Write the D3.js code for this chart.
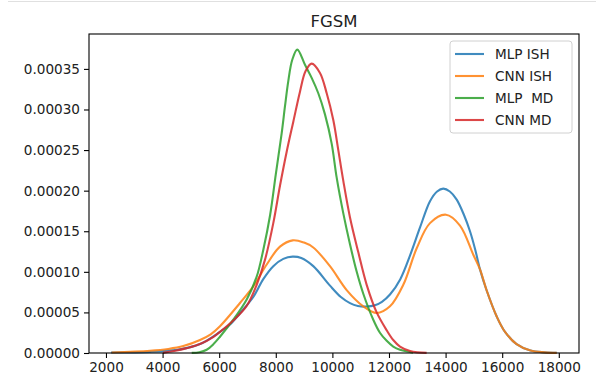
<!DOCTYPE html>
<html>
<head>
<meta charset="utf-8">
<script src="https://cdn.jsdelivr.net/npm/d3@7"></script>
<style>
  html, body { margin: 0; padding: 0; background: #fff; }
  svg { display: block; font-family: "DejaVu Sans", sans-serif; }
</style>
</head>
<body>
<div id="chart"></div>
<script>
// ---- data ----
const title = "FGSM";
const seriesNames = ["MLP ISH", "CNN ISH", "MLP  MD", "CNN MD"];
const seriesColors = ["#1f77b4", "#ff7f0e", "#2ca02c", "#d62728"];
const xTicks = [2000, 4000, 6000, 8000, 10000, 12000, 14000, 16000, 18000];
const yTicks = [0, 0.00005, 0.0001, 0.00015, 0.0002, 0.00025, 0.0003, 0.00035];

// KDE curves: [x, density]
const mlpISH = [
  [2180, 0.0000007], [3555, 0.0000014], [4615, 0.0000045], [5322, 0.000011],
  [6028, 0.000026], [6382, 0.000035], [6735, 0.000049], [7205, 0.000069],
  [7558, 0.000091], [7912, 0.000107], [8265, 0.000116], [8597, 0.0001187],
  [8900, 0.000117], [9325, 0.000107], [9915, 0.000083], [10300, 0.000069],
  [10622, 0.0000615], [10900, 0.000058], [11200, 0.0000572], [11500, 0.0000588],
  [11750, 0.000063], [12035, 0.000072], [12400, 0.000091], [12742, 0.000120],
  [13100, 0.000155], [13449, 0.000187], [13700, 0.000199], [13919, 0.0002025],
  [14150, 0.000199], [14393, 0.000189], [14650, 0.000170], [14862, 0.000150],
  [15050, 0.000127], [15216, 0.000103], [15452, 0.000077], [15806, 0.000045],
  [16100, 0.000026], [16509, 0.000011], [17000, 0.000003], [17500, 0.0000008],
  [17926, 0.0000002]
];
const cnnISH = [
  [2200, 0.0000007], [3555, 0.0000028], [4200, 0.000005], [4731, 0.0000085],
  [5322, 0.000016], [5700, 0.000023], [6028, 0.000033], [6735, 0.0000616],
  [7205, 0.000082], [7679, 0.000109], [8148, 0.000131], [8597, 0.0001388],
  [9000, 0.000136], [9325, 0.000130], [9915, 0.000107], [10505, 0.0000775],
  [11092, 0.0000575], [11565, 0.0000493], [12035, 0.0000575], [12505, 0.000084],
  [12979, 0.000129], [13449, 0.000160], [14014, 0.0001704], [14509, 0.000157],
  [14979, 0.000121], [15216, 0.000103], [15452, 0.000077], [15806, 0.000045],
  [16100, 0.000026], [16509, 0.000011], [17000, 0.000003], [17500, 0.0000008],
  [17926, 0.0000002]
];
const mlpMD = [
  [5030, 0.0000002], [5300, 0.000001], [5558, 0.000004], [5800, 0.000011],
  [6028, 0.000020], [6498, 0.000041], [6972, 0.000066], [7325, 0.000094],
  [7558, 0.000127], [7800, 0.000170], [8000, 0.000220], [8209, 0.000271],
  [8325, 0.000304], [8442, 0.000335], [8580, 0.000361], [8760, 0.0003738],
  [9032, 0.000355], [9268, 0.000339], [9502, 0.000320], [9738, 0.000294],
  [9975, 0.000258], [10152, 0.000216], [10386, 0.000172], [10622, 0.000134],
  [10860, 0.000100], [11092, 0.000073], [11445, 0.000041], [11680, 0.000025],
  [11919, 0.000015], [12150, 0.000008], [12389, 0.000004], [12742, 0.0000012],
  [12850, 0.0000003]
];
const cnnMD = [
  [4010, 0.0000002], [4400, 0.0000025], [4852, 0.000006], [5322, 0.000011],
  [5800, 0.000020], [6028, 0.000026], [6498, 0.000040], [6972, 0.000058],
  [7325, 0.000084], [7620, 0.000115], [7912, 0.000160], [8148, 0.000206],
  [8385, 0.000248], [8619, 0.000285], [8855, 0.000322], [9050, 0.000347],
  [9268, 0.0003565], [9562, 0.000345], [9799, 0.000320], [10032, 0.000287],
  [10209, 0.000250], [10386, 0.000212], [10622, 0.000167], [10916, 0.000124],
  [11212, 0.000084], [11565, 0.000050], [11919, 0.000028], [12150, 0.000016],
  [12389, 0.000008], [12742, 0.0000025], [13000, 0.0000008], [13330, 0.0000002]
];
const seriesData = [mlpISH, cnnISH, mlpMD, cnnMD];

// ---- layout ----
const W = 596, H = 387;
const margin = { left: 89, right: 17, top: 34, bottom: 34 };
const iw = W - margin.left - margin.right;
const ih = H - margin.top - margin.bottom;

const svg = d3.select("#chart").append("svg")
  .attr("width", W).attr("height", H);

// notebook cell top border
svg.append("line").attr("x1", 8).attr("x2", W).attr("y1", 1.5).attr("y2", 1.5)
  .attr("stroke", "#e0e0e0").attr("stroke-width", 1);

const g = svg.append("g").attr("transform", `translate(${margin.left},${margin.top})`);

const x = d3.scaleLinear().domain([1400, 18714]).range([0, iw]);
const y = d3.scaleLinear().domain([0, 0.000393]).range([ih, 0]);

const line = d3.line()
  .x(d => x(d[0])).y(d => y(d[1]))
  .curve(d3.curveCatmullRom.alpha(0.5));

seriesData.forEach((s, i) => {
  g.append("path").datum(s)
    .attr("d", line)
    .attr("fill", "none")
    .attr("stroke", seriesColors[i])
    .attr("stroke-opacity", 0.85)
    .attr("stroke-width", 2.1)
    .attr("stroke-linejoin", "round")
    .attr("stroke-linecap", "butt");
});

// axes
const fs = "13.6px";
const xAxis = g.append("g").attr("transform", `translate(0,${ih})`)
  .call(d3.axisBottom(x).tickValues(xTicks).tickFormat(d3.format("d")).tickSize(5).tickSizeOuter(0).tickPadding(4));
const yAxis = g.append("g")
  .call(d3.axisLeft(y).tickValues(yTicks).tickFormat(d3.format(".5f")).tickSize(5).tickSizeOuter(0).tickPadding(4));
[xAxis, yAxis].forEach(a => {
  a.select(".domain").remove();
  a.selectAll(".tick line").attr("stroke", "#000").attr("stroke-width", 1.1);
  a.selectAll(".tick text").attr("fill", "#222").style("font-size", fs)
    .style("font-family", "DejaVu Sans, sans-serif");
});

// frame
g.append("rect").attr("x", 0).attr("y", 0).attr("width", iw).attr("height", ih)
  .attr("fill", "none").attr("stroke", "#000").attr("stroke-width", 1.1);

// title
svg.append("text")
  .attr("x", margin.left + iw / 2).attr("y", 27)
  .attr("text-anchor", "middle")
  .attr("fill", "#222")
  .style("font-size", "16.5px")
  .text(title);

// legend
const lg = svg.append("g");
const lx = 450, ly = 41, lw = 122, lh = 92;
lg.append("rect").attr("x", lx).attr("y", ly).attr("width", lw).attr("height", lh)
  .attr("rx", 3).attr("fill", "#fff").attr("fill-opacity", 0.8)
  .attr("stroke", "#d0d0d0").attr("stroke-width", 1);
seriesNames.forEach((name, i) => {
  const cy = 54 + i * 22;
  lg.append("line").attr("x1", 455).attr("x2", 484).attr("y1", cy).attr("y2", cy)
    .attr("stroke", seriesColors[i]).attr("stroke-opacity", 0.85).attr("stroke-width", 2.1);
  lg.append("text").attr("x", 495).attr("y", cy + 5)
    .attr("fill", "#222").style("font-size", fs).style("white-space", "pre")
    .text(name);
});
</script>
</body>
</html>
